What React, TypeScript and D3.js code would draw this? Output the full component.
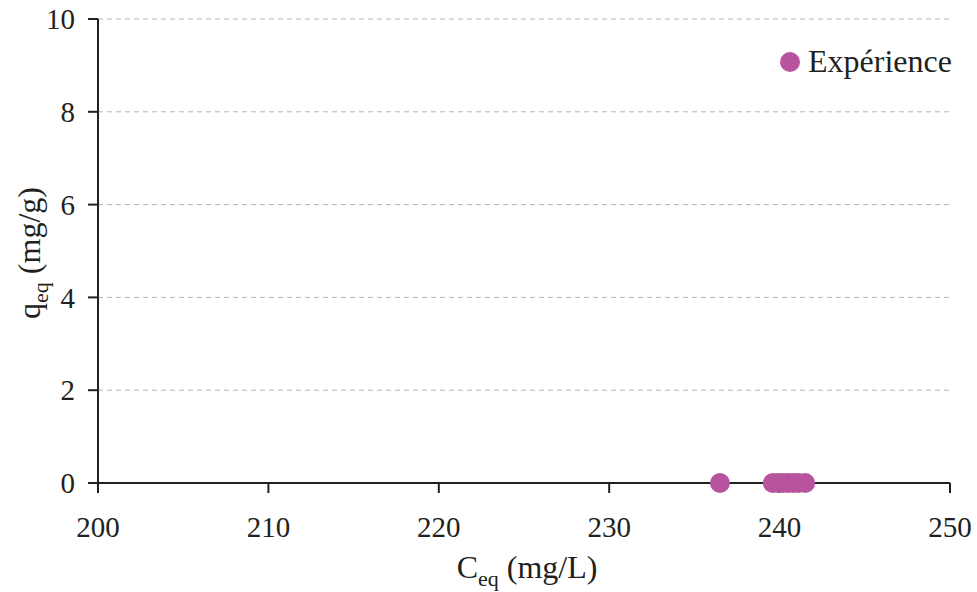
import React from "react";
import * as d3 from "d3";

const ceq = [236.5, 239.6, 239.9, 240.2, 240.5, 240.8, 241.1, 241.5];
const qeq = [0, 0, 0, 0, 0, 0, 0, 0];
const xTicks = [200, 210, 220, 230, 240, 250];
const yTicks = [0, 2, 4, 6, 8, 10];
const legendLabel = "Expérience";

export default function App() {
  const W = 977, H = 592;
  const x = d3.scaleLinear().domain([200, 250]).range([98, 950]);
  const y = d3.scaleLinear().domain([0, 10]).range([483, 19]);
  const axisColor = "#231f20";
  const dotColor = "#b8549e";
  return (
    <svg width={W} height={H} style={{ position: "absolute", left: 0, top: 0, fontFamily: "'Liberation Serif', 'Times New Roman', Times, serif" }}>
      <rect width={W} height={H} fill="#fff" />
      {yTicks.filter(t => t > 0).map(t => (
        <line key={"g" + t} x1={x(200)} x2={x(250)} y1={y(t)} y2={y(t)} stroke="#b5b5b5" strokeWidth={1} strokeDasharray="5,4" />
      ))}
      <line x1={x(200)} x2={x(200)} y1={y(10)} y2={y(0) + 10} stroke={axisColor} strokeWidth={2} />
      <line x1={x(200) - 10} x2={x(250)} y1={y(0)} y2={y(0)} stroke={axisColor} strokeWidth={2} />
      {yTicks.map(t => (
        <g key={"y" + t}>
          <line x1={x(200) - 10} x2={x(200)} y1={y(t)} y2={y(t)} stroke={axisColor} strokeWidth={2} />
          <text x={x(200) - 23} y={y(t)} dy="0.35em" textAnchor="end" fontSize={29} fill={axisColor}>{t}</text>
        </g>
      ))}
      {xTicks.map(t => (
        <g key={"x" + t}>
          <line x1={x(t)} x2={x(t)} y1={y(0)} y2={y(0) + 10} stroke={axisColor} strokeWidth={2} />
          <text x={x(t)} y={537} textAnchor="middle" fontSize={29} fill={axisColor}>{t}</text>
        </g>
      ))}
      {ceq.map((c, i) => (
        <circle key={"p" + i} cx={x(c)} cy={y(qeq[i])} r={10} fill={dotColor} />
      ))}
      <text x={527} y={578} textAnchor="middle" fontSize={32} fill={axisColor}>
        C<tspan fontSize={22} dy={8}>eq</tspan><tspan dy={-8}> (mg/L)</tspan>
      </text>
      <text transform="translate(40,253) rotate(-90)" textAnchor="middle" fontSize={32} fill={axisColor}>
        q<tspan fontSize={22} dy={8}>eq</tspan><tspan dy={-8}> (mg/g)</tspan>
      </text>
      <circle cx={790} cy={62} r={10} fill={dotColor} />
      <text x={808} y={72} fontSize={32} fill={axisColor}>{legendLabel}</text>
    </svg>
  );
}
